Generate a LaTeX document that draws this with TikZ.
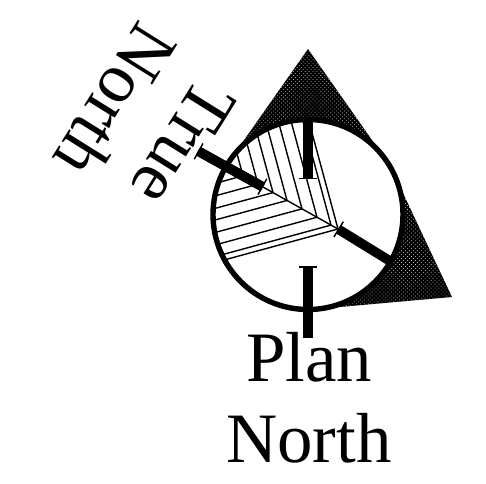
\documentclass[tikz,border=0pt]{standalone}
\usepackage{fontspec}
\setmainfont{Liberation Serif}
\usetikzlibrary{arrows.meta, patterns}
\pgfdeclarepatternformonly{finedots}{\pgfqpoint{-0.4pt}{-0.4pt}}{\pgfqpoint{2.4pt}{2.4pt}}{\pgfqpoint{2.8pt}{2.8pt}}{
  \pgfpathcircle{\pgfqpoint{0pt}{0pt}}{0.3pt}
  \pgfpathcircle{\pgfqpoint{1.4pt}{1.4pt}}{0.3pt}
  \pgfusepath{fill}
}

\begin{document}
\begin{tikzpicture}[
  x=0.025cm, y=-0.025cm,
  every node/.style={font=\fontsize{50.4}{57.5}\selectfont},
  sector/.style={
    preaction={fill=black}, pattern=finedots, pattern color=white
  },
  dial/.style={draw=black, line width=0.135cm, fill=white},
  hatch/.style={black, line width=1pt},
  needle/.style={
    black, line width=0.24cm,
    -{Rectangle[width=0.45cm, length=0.035cm]}
  },
]
\useasboundingbox (0,0) rectangle (486,483);

% Shaded sectors
\fill[sector] (308,49) -- (230,160) -- (386,160) -- cycle;
\fill[sector] (452,297) -- (394,174) -- (317,309) -- cycle;

% Dial
\node[circle, inner sep=0pt] (centre) at (308,214.5) {};
\draw[dial] (centre) circle (95);

% Hatching
\begin{scope}
  \clip (centre) circle (93);
  \foreach \bx in {338,331,317,302,287,273,258,243} {
    \draw[hatch] (\bx,{229-(338-\bx)*0.56}) -- ++(-30,-111);
    \draw[hatch] (\bx,{229-(338-\bx)*0.56}) -- ++(-125,34);
  }
\end{scope}
\coordinate (trueend) at (263,187);
\coordinate (hub) at (338,229);
\draw[hatch] (trueend) -- (hub);

% North marks
\coordinate (truetop) at (198,151);
\coordinate (rim) at (390,261);
\coordinate (plantop) at (308,119);
\coordinate (planend) at (308,179);
\coordinate (plantail) at (308,338);
\coordinate (planhead) at (308,266);
\draw[needle] (plantop) -- (planend);
\draw[needle] (plantail) -- (planhead);
\draw[needle] (trueend) -- (truetop);
\draw[needle] (truetop) -- (trueend);
\draw[needle] (rim) -- (hub);

% Labels
\node[align=center, rotate=-122] (truelabel) at (149,122) {True\\North};
\node[align=center] (planlabel) at (309,398) {Plan\\North};

\end{tikzpicture}
\end{document}
